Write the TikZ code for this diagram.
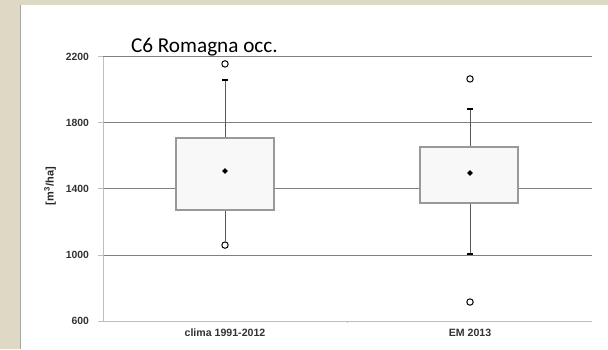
\documentclass[tikz,border=0pt]{standalone}
\usepackage{fontspec}
\setmainfont{Liberation Sans}
\newfontfamily\titlefont{Carlito}
\usetikzlibrary{shapes.geometric}
\definecolor{beige}{RGB}{222,217,197}
\definecolor{gridgray}{RGB}{128,128,128}
\definecolor{axisgray}{RGB}{190,190,190}
\definecolor{boxfill}{RGB}{248,248,248}
\tikzset{
  bx_box/.style = {draw=gray!80, fill=boxfill, line width=0.6pt},% scatola
  bx_wh/.style = {draw=black!65, line width=0.5pt},% baffo
  bx_cap/.style = {rectangle, fill=black, inner sep=0pt,
    minimum width=3pt, minimum height=1pt},% fine baffo
  bx_out/.style = {circle, draw=black, fill=white, inner sep=0pt,
    minimum size=3.2pt, line width=0.5pt},% valore anomalo
  bx_mean/.style = {diamond, fill=black, inner sep=0pt, minimum size=3pt},% media
  tick_lab/.style = {anchor=east, font=\bfseries\fontsize{5.2}{6}\selectfont,
    text=black!80},
}
\begin{document}
\begin{tikzpicture}[x=0.5pt,y=-0.5pt]
  \useasboundingbox (0,0) rectangle (608,349);
  \fill[beige] (0,0) rectangle (608,349);
  \fill[white] (20,5) rectangle (608,349);
  \draw[gray!70, line width=0.8pt] (20.5,5) -- (20.5,349);

  \node[anchor=base west, font=\titlefont\fontsize{10.6}{12}\selectfont] (title) at (124,52) {C6 Romagna occ.};
  \node[rotate=90, font=\bfseries\fontsize{5.5}{6}\selectfont, text=black!85] (ylab) at (50,186) {[m\textsuperscript{3}/ha]};

  \begin{scope}[shift={(0,420)}, y=0.0825pt]
    % griglia
    \foreach \v in {1000,1400,1800,2200}
      \draw[gridgray, line width=0.5pt] (103,\v) -- (592,\v);
    \draw[axisgray, line width=0.5pt] (103,600) -- (592,600);
    \draw[axisgray, line width=0.5pt] (103,600) -- (103,2200);
    \foreach \v in {600,1000,1400,1800,2200} {
      \draw[axisgray, line width=0.5pt] (98,\v) -- (103,\v);
      \node[tick_lab] (t\v) at (96,\v) {\v};
    }
    \draw[axisgray, line width=0.4pt] (347,600) -- (347,585);

    %   clima 1991-2012
    \coordinate (b1bl) at (176,1273);
    \coordinate (b1tr) at (274,1709);
    \coordinate (b1top) at (225,1709);
    \coordinate (b1bot) at (225,1273);
    \node[bx_cap] (c1up) at (225,2061) {};
    \node[bx_out] (o1up) at (225,2158) {};
    \node[bx_out] (o1lo) at (225,1060) {};
    \draw[bx_wh] (b1top) -- (c1up);
    \draw[bx_wh] (b1bot) -- (o1lo);
    \draw[bx_box] (b1bl) rectangle (b1tr);
    \node[bx_mean] (m1) at (225,1509) {};

    %   EM 2013
    \coordinate (b2bl) at (420,1315);
    \coordinate (b2tr) at (518,1655);
    \coordinate (b2top) at (470,1655);
    \coordinate (b2bot) at (470,1315);
    \node[bx_cap] (c2up) at (470,1885) {};
    \node[bx_cap] (c2lo) at (470,1006) {};
    \node[bx_out] (o2up) at (470,2067) {};
    \node[bx_out] (o2lo) at (470,715) {};
    \draw[bx_wh] (b2top) -- (c2up);
    \draw[bx_wh] (b2bot) -- (c2lo);
    \draw[bx_box] (b2bl) rectangle (b2tr);
    \node[bx_mean] (m2) at (470,1497) {};
  \end{scope}

  \node[font=\bfseries\fontsize{5.3}{6}\selectfont, text=black!80] (x1) at (225,333) {clima 1991-2012};
  \node[font=\bfseries\fontsize{5.3}{6}\selectfont, text=black!80] (x2) at (470,333) {EM 2013};
\end{tikzpicture}
\end{document}
